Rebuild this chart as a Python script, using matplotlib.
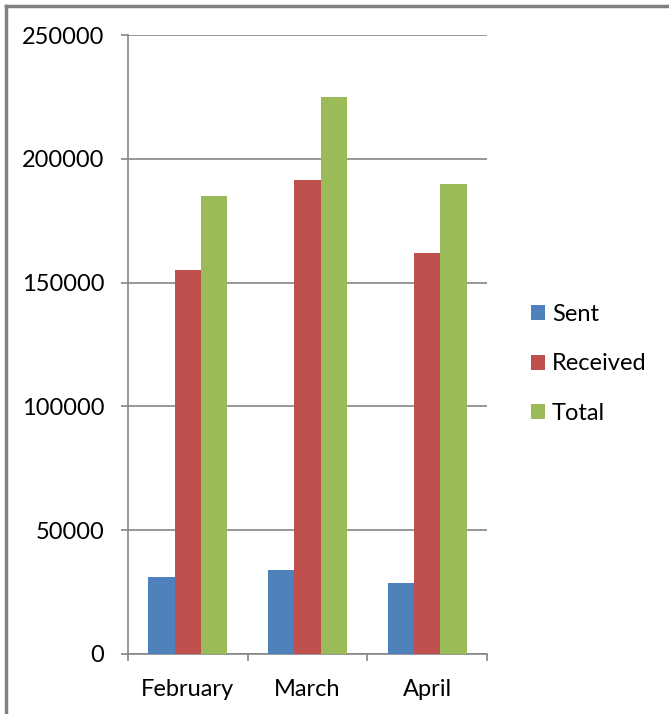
import numpy as np
import matplotlib.pyplot as plt
from matplotlib.lines import Line2D

months = ['February', 'March', 'April']
sent = [31000, 34000, 28500]
received = [155000, 191500, 162000]
total = [185000, 225000, 190000]
series_names = ['Sent', 'Received', 'Total']
colors = ['#4F81BD', '#C0504D', '#9BBB59']
y_ticks = [0, 50000, 100000, 150000, 200000, 250000]

plt.rcParams['font.family'] = ['Lato', 'DejaVu Sans']

fig = plt.figure(figsize=(6.69, 7.14), dpi=100)
ax = fig.add_axes([128 / 669, 1 - 654 / 714, (487 - 128) / 669, (654 - 35) / 714])

x = np.arange(len(months))
w = 0.22
for i, (vals, name, c) in enumerate(zip([sent, received, total], series_names, colors)):
    ax.bar(x + (i - 1) * w, vals, w, color=c, label=name, zorder=3)

grid_c = '#868686'
ax.set_xlim(-0.5, 2.5)
ax.set_ylim(0, 250000)
ax.set_yticks(y_ticks)
ax.set_yticklabels([str(v) for v in y_ticks])
ax.yaxis.grid(True, color=grid_c, linewidth=1.2, zorder=0)
ax.set_xticks(x)
ax.set_xticklabels(months)
ax.set_xticks([-0.5, 0.5, 1.5, 2.5], minor=True)
ax.tick_params(axis='x', which='major', length=0, pad=18, labelsize=17)
ax.tick_params(axis='x', which='minor', length=5, width=1.2, color=grid_c, direction='out')
ax.tick_params(axis='y', length=5, width=1.2, color=grid_c, direction='out', pad=12, labelsize=17)
for s in ['top', 'right']:
    ax.spines[s].set_visible(False)
for s in ['left', 'bottom']:
    ax.spines[s].set_color(grid_c)
    ax.spines[s].set_linewidth(1.2)

leg = fig.legend(loc='center left', bbox_to_anchor=(519 / 669, 1 - 364 / 714),
                 frameon=False, fontsize=17, handlelength=0.6, handleheight=0.6,
                 handletextpad=0.3, labelspacing=1.2, borderpad=0)

# outer frame (top and left edges only)
fig.add_artist(Line2D([5.5 / 669, 5.5 / 669], [0, 1 - 5.5 / 714], color='#808080', linewidth=2.5))
fig.add_artist(Line2D([5.5 / 669, 1], [1 - 5.5 / 714, 1 - 5.5 / 714], color='#808080', linewidth=2.5))

fig.savefig('out.png', dpi=100)
